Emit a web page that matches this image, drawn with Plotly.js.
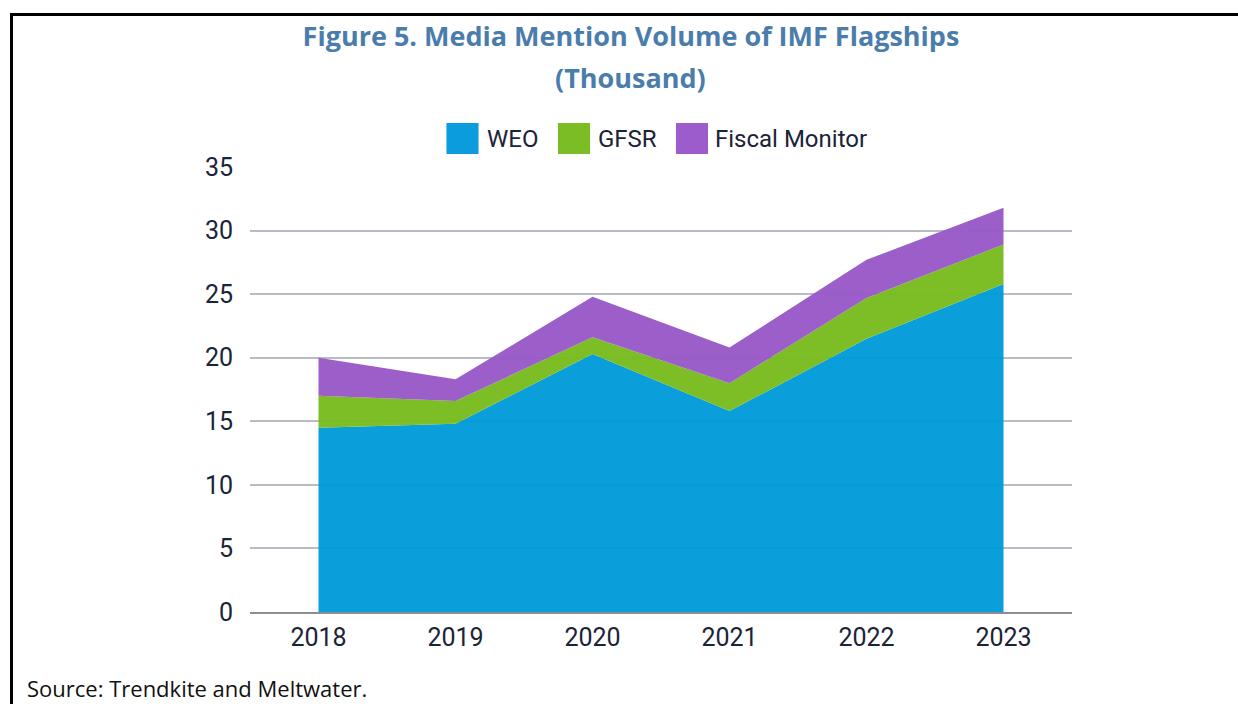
<!DOCTYPE html>
<html>
<head>
<meta charset="utf-8">
<script src="https://cdn.plot.ly/plotly-3.0.1.min.js"></script>
<style>
  html, body { margin: 0; padding: 0; background: #fff; }
  #chart { width: 1238px; height: 704px; }
  #frame { position: absolute; left: 10px; top: 13px; width: 1240px; height: 700px;
           border-top: 3px solid #000; border-left: 3px solid #000; pointer-events: none; }
</style>
</head>
<body>
<div id="chart"></div>
<div id="frame"></div>
<script>
const years = ['2018', '2019', '2020', '2021', '2022', '2023'];
const seriesNames = ['WEO', 'GFSR', 'Fiscal Monitor'];
const weo = [14.5, 14.8, 20.3, 15.8, 21.5, 25.8];
const gfsr = [2.5, 1.8, 1.3, 2.2, 3.2, 3.1];
const fiscalMonitor = [3.0, 1.7, 3.2, 2.8, 3.0, 2.9];
const yTicks = [0, 5, 10, 15, 20, 25, 30, 35];
const titleLine1 = 'Figure 5. Media Mention Volume of IMF Flagships';
const titleLine2 = '(Thousand)';
const sourceText = 'Source: Trendkite and Meltwater.';

const seriesValues = [weo, gfsr, fiscalMonitor];
const fills = ['rgba(0,154,218,0.96)', 'rgba(120,187,30,0.96)', 'rgba(152,88,200,0.96)'];
const swatch = ['#0A9CDC', '#7BBD25', '#9C5CCB'];

const traces = seriesValues.map((vals, i) => ({
  type: 'scatter', mode: 'lines', x: years, y: vals, name: seriesNames[i],
  stackgroup: 'one', line: {width: 0, color: swatch[i]}, fillcolor: fills[i],
  showlegend: false, hoverinfo: 'x+y+name'
}));

const titleFont = {family: 'Open Sans, sans-serif', size: 27, color: '#4A7DAC', weight: 'bold'};

// legend item placement (layout constants)
const legSquareX = [0.239, 0.3747, 0.5182];
const legSquareW = 0.039;
const legTextX = [0.2859, 0.4209, 0.5633];
const shapes = [];
const annotations = [];
seriesNames.forEach((n, i) => {
  shapes.push({type: 'rect', xref: 'paper', yref: 'paper', x0: legSquareX[i], x1: legSquareX[i] + legSquareW,
    y0: 1.029, y1: 1.099, fillcolor: swatch[i], line: {width: 0}});
  annotations.push({xref: 'paper', yref: 'paper', x: legTextX[i], y: 1.062, xanchor: 'left', yanchor: 'middle',
    text: n, showarrow: false, font: {family: 'Roboto, sans-serif', size: 24, color: '#1B2437'}});
});
annotations.push({xref: 'paper', yref: 'paper', x: 0.4635, y: 1.202, xanchor: 'center', yanchor: 'middle',
  text: '<b>' + titleLine2 + '</b>', showarrow: false, font: titleFont});
annotations.push({xref: 'paper', yref: 'paper', x: -0.2737, y: -0.171, xanchor: 'left', yanchor: 'middle',
  text: sourceText, showarrow: false,
  font: {family: 'Open Sans, sans-serif', size: 22, color: '#111'}});

const layout = {
  width: 1238, height: 704,
  margin: {l: 250, r: 166, t: 167, b: 92},
  paper_bgcolor: '#fff', plot_bgcolor: '#fff',
  title: {
    text: titleLine1,
    xref: 'container', yref: 'container', x: 631 / 1238, xanchor: 'center', y: 1 - 37 / 704, yanchor: 'middle',
    font: titleFont
  },
  xaxis: {
    type: 'category', range: [-0.5, 5.5], showgrid: false, zeroline: false,
    showline: true, linecolor: '#8A8D96', linewidth: 2, ticks: '',
    tickfont: {family: 'Roboto, sans-serif', size: 25, color: '#1B2437'}, ticklabelstandoff: 2
  },
  yaxis: {
    range: [0, 35], tickvals: yTicks, showgrid: true, gridcolor: '#B9BCC4', gridwidth: 1.5,
    zeroline: false, showline: false, ticks: '',
    tickfont: {family: 'Roboto, sans-serif', size: 25, color: '#1B2437'}, ticklabelstandoff: 16
  },
  shapes: shapes,
  annotations: annotations,
  showlegend: false
};

Plotly.newPlot('chart', traces, layout, {displayModeBar: false, responsive: false});
</script>
</body>
</html>
